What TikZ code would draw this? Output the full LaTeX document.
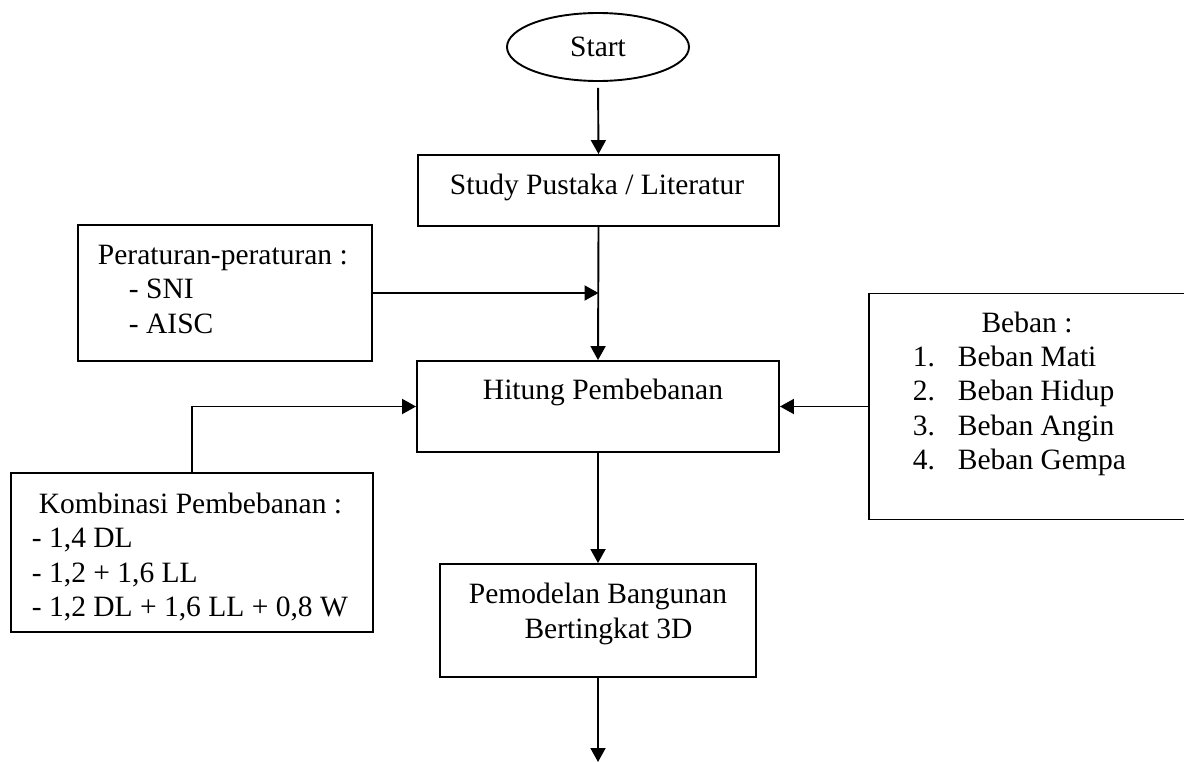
\documentclass[tikz,border=0pt]{standalone}
\usepackage{fontspec}
\setmainfont{Liberation Serif}
\usepackage{tikz}
\usetikzlibrary{arrows.meta,shapes.geometric}

\begin{document}
\begin{tikzpicture}[x=1pt, y=-1pt, line width=1.9pt,
  every node/.style={font=\fontsize{29.5}{34.5}\selectfont, inner sep=0pt},
  kotak/.style={draw, rectangle},
  panah/.style={-{Triangle[length=14pt,width=15pt]}}]
  \clip (0,0) rectangle (1184,762);
  \node[draw, ellipse, minimum width=182pt, minimum height=68pt] (start) at (598,47) {Start};
  % kotak utama
  \node[kotak, minimum width=361pt, minimum height=71pt] (studi) at (598.5,190.5) {};
  \node[anchor=base] (studitxt) at (597,195) {Study Pustaka / Literatur};
  \node[kotak, minimum width=362pt, minimum height=91pt] (hitung) at (598,406.5) {};
  \node[anchor=base] (hitungtxt) at (603,399) {Hitung Pembebanan};
  \node[kotak, minimum width=316pt, minimum height=113pt] (pemodelan) at (598,620.5) {};
  \node[align=center] (pemodelantxt) at (598,614) {Pemodelan Bangunan\\\hspace{21pt}Bertingkat 3D};
  % kotak samping
  \node[kotak, minimum width=294pt, minimum height=136pt] (peraturan) at (225,293) {};
  \node[align=left, anchor=west] (peraturantxt) at (97,289)
    {Peraturan-peraturan :\\\hspace{31pt}- SNI\\\hspace{31pt}- AISC};
  \node[kotak, minimum width=362pt, minimum height=159pt] (kombinasi) at (192,552.5) {};
  \node[align=left, anchor=west] (kombinasitxt) at (31,557)
    {\hspace{7pt}Kombinasi Pembebanan :\\- 1,4 DL\\- 1,2 + 1,6 LL\\- 1,2 DL + 1,6 LL + 0,8 W};
  \node[kotak, minimum width=330pt, minimum height=226pt] (beban) at (1034,406.5) {};
  \node[anchor=base] (bebanjudul) at (1027,332) {Beban :};
  \node[align=left, anchor=west] (bebantxt) at (912,411)
    {\makebox[45pt][l]{1.}Beban Mati\\\makebox[45pt][l]{2.}Beban Hidup\\
     \makebox[45pt][l]{3.}Beban Angin\\\makebox[45pt][l]{4.}Beban Gempa};
  \coordinate (akhir) at (598,762);
  % panah
  \draw[panah, shorten <=6pt] (start.south) -- (studi.north);
  \draw[panah] (studi.south) -- (hitung.north);
  \draw[panah] (peraturan.east) -- (peraturan.east -| studi.south);
  \draw[panah] (kombinasi.north) |- (hitung.west);
  \draw[panah] (beban.west) -- (hitung.east);
  \draw[panah] (hitung.south) -- (pemodelan.north);
  \draw[panah] (pemodelan.south) -- (akhir);
\end{tikzpicture}
\end{document}
